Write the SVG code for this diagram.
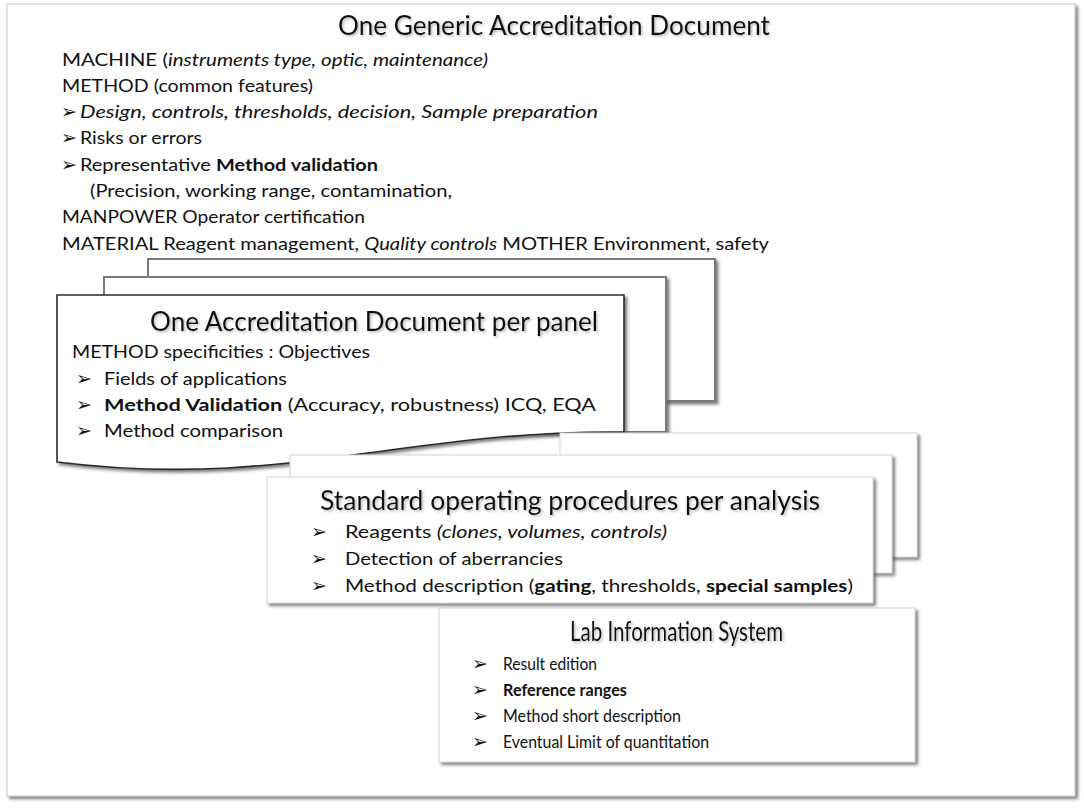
<svg xmlns="http://www.w3.org/2000/svg" width="1084" height="808" viewBox="0 0 1084 808">
<defs>
<filter id="sh" x="-5%" y="-5%" width="110%" height="115%">
<feDropShadow dx="2.5" dy="2.5" stdDeviation="1.5" flood-color="#555" flood-opacity="0.75"/>
</filter>
<filter id="tsh" x="-5%" y="-20%" width="110%" height="150%">
<feDropShadow dx="1.5" dy="1.5" stdDeviation="1" flood-color="#888" flood-opacity="0.6"/>
</filter>
<style>
text{font-family:Lato,"Liberation Sans",sans-serif;fill:#111;}
.t{font-size:27px;}
.b{font-size:17.5px;}
.ar{font-family:"DejaVu Sans",sans-serif;font-size:19px;}
.i{font-style:italic;}
.bd{font-weight:bold;}
.page{fill:#fff;stroke:#7a7a7a;stroke-width:2;}
.lite{fill:#fff;stroke:#d4d4d4;stroke-width:1;}
</style>
</defs>
<rect width="1084" height="808" fill="#fff"/>

<g id="frame">
<rect x="7" y="4" width="1068" height="792" fill="#fff" stroke="#d0d0d0" stroke-width="1.2" filter="url(#sh)"/>
</g>

<g id="generic-document">
<text class="t" x="338" y="35" textLength="432" lengthAdjust="spacingAndGlyphs" filter="url(#tsh)">One Generic Accreditation Document</text>
<text class="b" x="62" y="66" textLength="426" lengthAdjust="spacingAndGlyphs">MACHINE (<tspan class="i">instruments type, optic, maintenance)</tspan></text>
<text class="b" x="62" y="92" textLength="251" lengthAdjust="spacingAndGlyphs">METHOD (common features)</text>
<text class="ar" x="61" y="118">➢</text>
<text class="b i" x="80" y="118" textLength="518" lengthAdjust="spacingAndGlyphs">Design, controls, thresholds, decision, Sample preparation</text>
<text class="ar" x="61" y="144">➢</text>
<text class="b" x="80" y="144" textLength="122" lengthAdjust="spacingAndGlyphs">Risks or errors</text>
<text class="ar" x="61" y="170.5">➢</text>
<text class="b" x="80" y="170.5" textLength="298" lengthAdjust="spacingAndGlyphs">Representative <tspan class="bd">Method validation</tspan></text>
<text class="b" x="90" y="197" textLength="362" lengthAdjust="spacingAndGlyphs">(Precision, working range, contamination,</text>
<text class="b" x="62" y="223" textLength="303" lengthAdjust="spacingAndGlyphs">MANPOWER Operator certification</text>
<text class="b" x="62" y="250" textLength="707" lengthAdjust="spacingAndGlyphs">MATERIAL Reagent management, <tspan class="i">Quality controls</tspan> MOTHER Environment, safety</text>
</g>

<g id="panel-document">
<rect class="page" x="148" y="259" width="567" height="142" filter="url(#sh)"/>
<rect class="page" x="104" y="277" width="562" height="155" filter="url(#sh)"/>
<path d="M57,295 H624 V432 C400,430 280,490 57,462 Z" fill="#fff" stroke="#2a2a2a" stroke-width="1.6" filter="url(#sh)"/>
<text class="t" x="150" y="331" textLength="448" lengthAdjust="spacingAndGlyphs" filter="url(#tsh)">One Accreditation Document per panel</text>
<text class="b" x="72" y="358" textLength="298" lengthAdjust="spacingAndGlyphs">METHOD specificities : Objectives</text>
<text class="ar" x="76" y="385">➢</text>
<text class="b" x="104" y="385" textLength="183" lengthAdjust="spacingAndGlyphs">Fields of applications</text>
<text class="ar" x="76" y="411">➢</text>
<text class="b" x="104" y="411" textLength="492" lengthAdjust="spacingAndGlyphs"><tspan class="bd">Method Validation</tspan> (Accuracy, robustness)  ICQ, EQA</text>
<text class="ar" x="76" y="437">➢</text>
<text class="b" x="104" y="437" textLength="179" lengthAdjust="spacingAndGlyphs">Method comparison</text>
</g>

<g id="sop">
<rect class="lite" x="560" y="433" width="357" height="124" filter="url(#sh)"/>
<rect class="lite" x="290" y="455" width="602" height="118" filter="url(#sh)"/>
<rect class="lite" x="267" y="477" width="606" height="126" filter="url(#sh)"/>
<text class="t" x="320" y="510" textLength="500" lengthAdjust="spacingAndGlyphs" filter="url(#tsh)">Standard operating procedures per analysis</text>
<text class="ar" x="311" y="538">➢</text>
<text class="b" x="345" y="538" textLength="322" lengthAdjust="spacingAndGlyphs">Reagents <tspan class="i">(clones, volumes, controls)</tspan></text>
<text class="ar" x="311" y="565">➢</text>
<text class="b" x="345" y="565" textLength="218" lengthAdjust="spacingAndGlyphs">Detection of aberrancies</text>
<text class="ar" x="311" y="592">➢</text>
<text class="b" x="345" y="592" textLength="508" lengthAdjust="spacingAndGlyphs">Method description (<tspan class="bd">gating</tspan>, thresholds, <tspan class="bd">special samples</tspan>)</text>
</g>

<g id="lis">
<rect class="lite" x="439" y="608" width="476" height="154" filter="url(#sh)"/>
<text class="t" x="570" y="641" textLength="213" lengthAdjust="spacingAndGlyphs" filter="url(#tsh)" style="font-size:27px">Lab Information System</text>
<text class="ar" x="472" y="670">➢</text>
<text class="b" x="503" y="670" textLength="94" lengthAdjust="spacingAndGlyphs">Result edition</text>
<text class="ar" x="472" y="696">➢</text>
<text class="b bd" x="503" y="696" textLength="124" lengthAdjust="spacingAndGlyphs">Reference ranges</text>
<text class="ar" x="472" y="722">➢</text>
<text class="b" x="503" y="722" textLength="178" lengthAdjust="spacingAndGlyphs">Method short description</text>
<text class="ar" x="472" y="748">➢</text>
<text class="b" x="503" y="748" textLength="206" lengthAdjust="spacingAndGlyphs">Eventual Limit of quantitation</text>
</g>

<g id="connectors"/>
</svg>
